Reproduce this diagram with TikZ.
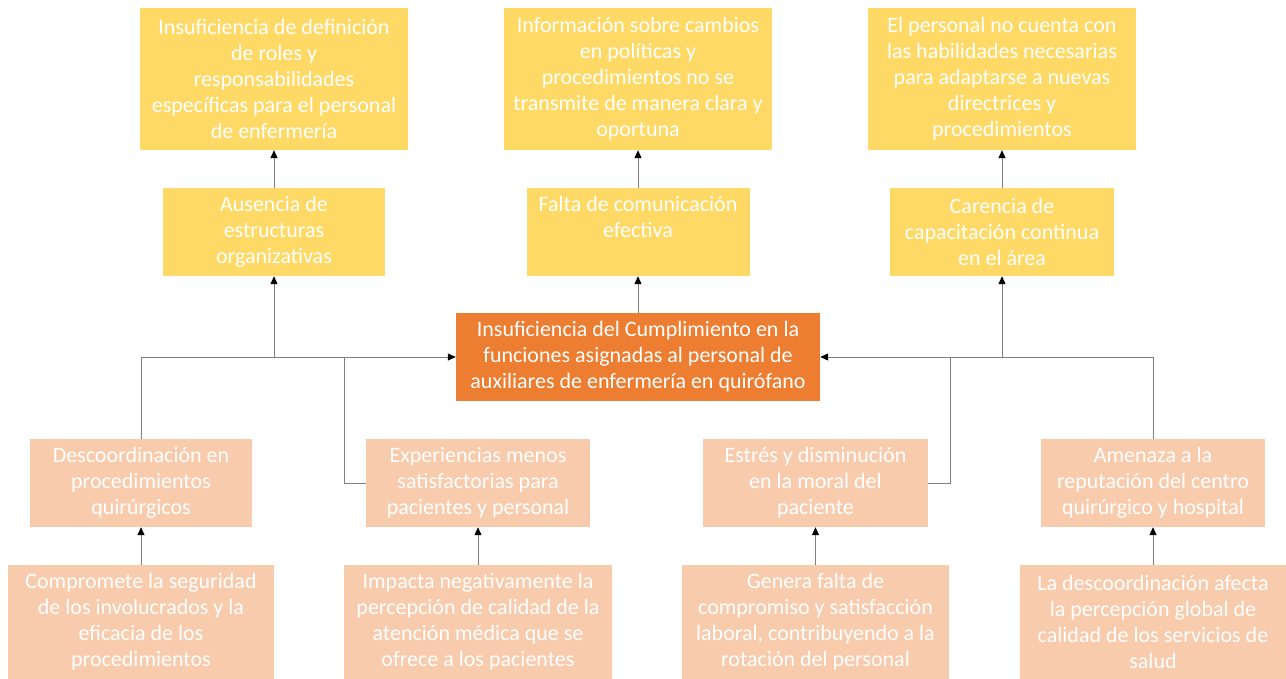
\documentclass[tikz,border=0pt]{standalone}
\usepackage{fontspec}
\setmainfont{Carlito}
\usetikzlibrary{arrows.meta,calc}
\definecolor{ylw}{HTML}{FFD966}
\definecolor{slm}{HTML}{F8CBAD}
\definecolor{org}{HTML}{ED7D31}
\definecolor{lnc}{HTML}{7F7F7F}
\tikzset{
  box/.style={rectangle,inner sep=0pt,align=center,text=white,
    font=\fontsize{22}{26}\selectfont},
  ybox/.style={box,fill=ylw},
  sbox/.style={box,fill=slm},
  obox/.style={box,fill=org},
  conn/.style={draw=lnc,line width=1pt},
  arr/.style={conn,-{Triangle[length=8pt,width=7pt,color=black]}}
}
\begin{document}
\begin{tikzpicture}[x=1pt,y=-1pt]
\useasboundingbox[fill=white] (0,0) rectangle (1286,679);
% top row
\node[ybox,minimum width=268pt,minimum height=142pt] (t1) at (274,79)
  {Insuficiencia de definición\\de roles y\\responsabilidades\\específicas para el personal\\de enfermería};
\node[ybox,minimum width=268pt,minimum height=142pt] (t2) at (638,79)
  {Información sobre cambios\\en políticas y\\procedimientos no se\\transmite de manera clara y\\oportuna};
\node[ybox,minimum width=268pt,minimum height=142pt] (t3) at (1002,79)
  {El personal no cuenta con\\las habilidades necesarias\\para adaptarse a nuevas\\directrices y\\procedimientos};
% second row
\node[ybox,minimum width=222pt,minimum height=88pt] (s1) at (274,232)
  {Ausencia de\\estructuras\\organizativas};
\node[ybox,minimum width=223pt,minimum height=88pt] (s2) at (638,232)
  {Falta de comunicación\\efectiva\\\vphantom{gp}};
\node[ybox,minimum width=224pt,minimum height=88pt] (s3) at (1002,232)
  {Carencia de\\capacitación continua\\en el área};
% center
\node[obox,minimum width=364pt,minimum height=88pt] (c) at (638,357)
  {Insuficiencia del Cumplimiento en la\\funciones asignadas al personal de\\auxiliares de enfermería en quirófano};
% third row
\node[sbox,minimum width=222pt,minimum height=88pt] (e1) at (141,483)
  {Descoordinación en\\procedimientos\\quirúrgicos};
\node[sbox,minimum width=224pt,minimum height=88pt] (e2) at (478,483)
  {Experiencias menos\\satisfactorias para\\pacientes y personal};
\node[sbox,minimum width=225pt,minimum height=88pt] (e3) at (815.5,483)
  {Estrés y disminución\\en la moral del\\paciente};
\node[sbox,minimum width=224pt,minimum height=88pt] (e4) at (1153,483)
  {Amenaza a la\\reputación del centro\\quirúrgico y hospital};
% bottom row
\node[sbox,minimum width=266pt,minimum height=114pt] (b1) at (141,622)
  {Compromete la seguridad\\de los involucrados y la\\eficacia de los\\procedimientos};
\node[sbox,minimum width=268pt,minimum height=114pt] (b2) at (478,622)
  {Impacta negativamente la\\percepción de calidad de la\\atención médica que se\\ofrece a los pacientes};
\node[sbox,minimum width=267pt,minimum height=114pt] (b3) at (815.5,622)
  {Genera falta de\\compromiso y satisfacción\\laboral, contribuyendo a la\\rotación del personal};
\node[sbox,minimum width=266pt,minimum height=114pt] (b4) at (1153,622)
  {La descoordinación afecta\\la percepción global de\\calidad de los servicios de\\salud};
% junctions
\coordinate (jL) at (344,357);
\coordinate (jR) at (950,357);
% connectors
\draw[arr] (s1.north) -- (t1.south);
\draw[arr] (s2.north) -- (t2.south);
\draw[arr] (s3.north) -- (t3.south);
\draw[arr] (c.north) -- (s2.south);
\draw[arr] (e1.north) |- (c.west);
\draw[arr] (c.west -| s1.south) -- (s1.south);
\draw[conn] (e2.west) -| (jL);
\draw[arr] (e4.north) |- (c.east);
\draw[arr] (c.east -| s3.south) -- (s3.south);
\draw[conn] (e3.east) -| (jR);
\draw[arr] (b1.north) -- (e1.south);
\draw[arr] (b2.north) -- (e2.south);
\draw[arr] (b3.north) -- (e3.south);
\draw[arr] (b4.north) -- (e4.south);
\end{tikzpicture}
\end{document}
